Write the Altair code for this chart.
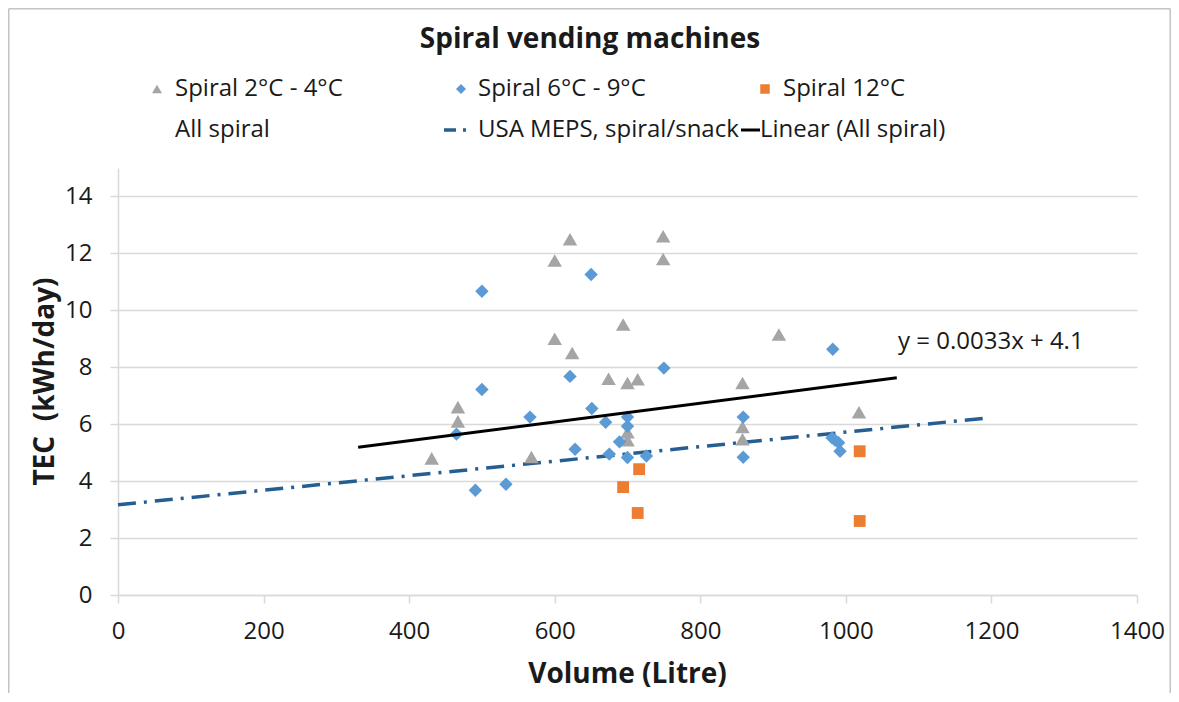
import altair as alt
import pandas as pd

# ---------------- data ----------------
cold_vol = [431, 467, 467, 568, 600, 600, 621, 624, 674, 694, 700, 714, 700, 700,
            749, 749, 858, 858, 858, 908, 1018]
cold_tec = [4.8, 6.6, 6.1, 4.85, 9.0, 11.75, 12.5, 8.5, 7.6, 9.5, 7.45, 7.58, 5.72, 5.44,
            12.6, 11.8, 7.45, 5.9, 5.47, 9.15, 6.42]

mid_vol = [465, 491, 500, 500, 533, 566, 621, 628, 650, 651, 670, 675, 689, 700, 700,
           700, 726, 750, 859, 859, 982, 981, 985, 990, 992]
mid_tec = [5.65, 3.68, 10.67, 7.22, 3.89, 6.25, 7.68, 5.12, 11.26, 6.55, 6.07, 4.95, 5.38,
           6.25, 5.93, 4.83, 4.88, 7.97, 6.25, 4.84, 8.63, 5.52, 5.44, 5.35, 5.05]

warm_vol = [694, 714, 716, 1019, 1019]
warm_tec = [3.79, 2.88, 4.42, 5.05, 2.6]

trend_vol = [330, 1070]
trend_tec = [5.19, 7.63]

meps_vol = [0, 1195]
meps_tec = [3.17, 6.22]

x_ticks = [0, 200, 400, 600, 800, 1000, 1200, 1400]
y_ticks = [0, 2, 4, 6, 8, 10, 12, 14]

series_names = ["Spiral 2°C - 4°C", "Spiral 6°C - 9°C", "Spiral 12°C",
                "All spiral", "USA MEPS, spiral/snack", "Linear (All spiral)"]
title_text = "Spiral vending machines"
x_title = "Volume (Litre)"
y_title = "TEC\u00a0 (kWh/day)"
equation = "y = 0.0033x + 4.1"

# ---------------- styling ----------------
FONT = "Open Sans"
TXT = "#1a1a1a"
GRID = "#d9d9d9"
C_GRAY = "#A5A5A5"
C_BLUE = "#5B9BD5"
C_ORANGE = "#ED7D31"
C_MEPS = "#255E91"
W, H = 1019, 427
PAD = {"left": 110, "top": 160, "right": 34, "bottom": 98}

xs = alt.Scale(domain=[0, 1400], nice=False, zero=False)
ys = alt.Scale(domain=[0, 15], nice=False, zero=False)

x_axis = alt.Axis(values=x_ticks, grid=False, title=None, domainColor=GRID, domainWidth=1.5,
                  tickColor=GRID, tickWidth=1.5, tickSize=8, labelFont=FONT, labelFontSize=24,
                  labelColor=TXT, labelPadding=16, labelFlush=False, format="d")
y_axis = alt.Axis(values=y_ticks, grid=True, gridColor=GRID, gridWidth=1.5, title=None,
                  domainColor=GRID, domainWidth=1.5, tickColor=GRID, tickWidth=1.5, tickSize=8,
                  labelFont=FONT, labelFontSize=24, labelColor=TXT, labelPadding=18, format="d")

X = alt.X("vol:Q", scale=xs, axis=x_axis)
Y = alt.Y("tec:Q", scale=ys, axis=y_axis)


def df(v, t):
    return pd.DataFrame({"vol": v, "tec": t})


one = pd.DataFrame({"k": [0]})

meps = alt.Chart(df(meps_vol, meps_tec)).mark_line(
    color=C_MEPS, strokeWidth=3.5, strokeDash=[18, 8, 3, 8]).encode(x=X, y=Y)
cold = alt.Chart(df(cold_vol, cold_tec)).mark_point(
    shape="triangle-up", filled=True, size=210, color=C_GRAY, opacity=1).encode(x=X, y=Y)
mid = alt.Chart(df(mid_vol, mid_tec)).mark_point(
    shape="diamond", filled=True, size=180, color=C_BLUE, opacity=1).encode(x=X, y=Y)
warm = alt.Chart(df(warm_vol, warm_tec)).mark_point(
    shape="square", filled=True, size=140, color=C_ORANGE, opacity=1).encode(x=X, y=Y)
trend = alt.Chart(df(trend_vol, trend_tec)).mark_line(
    color="#000000", strokeWidth=3).encode(x=X, y=Y)


def text(s, x, y, size=24, weight="normal", align="left", angle=0):
    return alt.Chart(one).mark_text(
        font=FONT, fontSize=size, fontWeight=weight, color=TXT, align=align,
        baseline="middle", angle=angle).encode(
        x=alt.value(x), y=alt.value(y), text=alt.value(s))


def sym(shape, color, x, y, size):
    return alt.Chart(one).mark_point(shape=shape, filled=True, color=color, size=size,
                                     opacity=1).encode(x=alt.value(x), y=alt.value(y))


def rule(x, x2, y, y2, color, width, dash=None):
    kw = dict(color=color, strokeWidth=width)
    if dash:
        kw["strokeDash"] = dash
    return alt.Chart(one).mark_rule(**kw).encode(
        x=alt.value(x), x2=alt.value(x2), y=alt.value(y), y2=alt.value(y2))


R1, R2 = -79, -38
LEFT_B = -PAD["left"] + 0.75
TOP_B = -PAD["top"] + 0.75
RIGHT_B = W + PAD["right"] - 0.75
BOT_B = H + PAD["bottom"] + 5
decor = [
    text(title_text, 472, -128, size=28, weight="bold", align="center"),
    sym("triangle-up", C_GRAY, 39, R1, 100),
    text(series_names[0], 57, R1),
    sym("diamond", C_BLUE, 343, R1, 100),
    text(series_names[1], 360, R1),
    sym("square", C_ORANGE, 647, R1, 90),
    text(series_names[2], 665, R1),
    text(series_names[3], 57, R2),
    rule(326, 352, R2, R2, C_MEPS, 3.5, [12, 7, 3, 7]),
    text(series_names[4], 360, R2),
    rule(623, 642, R2, R2, "#000000", 3),
    text(series_names[5], 642, R2),
    text(equation, 780, 174),
    text(x_title, 509.5, 507, size=28, weight="bold", align="center"),
    text(y_title, -72, 213.5, size=28, weight="bold", align="center", angle=270),
    # chart-area border
    rule(LEFT_B, LEFT_B, TOP_B, BOT_B, "#c4c4c4", 1.5),
    rule(LEFT_B, RIGHT_B, TOP_B, TOP_B, "#c4c4c4", 1.5),
    rule(RIGHT_B, RIGHT_B, TOP_B, BOT_B, "#c4c4c4", 1.5),
]

chart = alt.layer(meps, cold, mid, warm, trend, *decor).properties(
    width=W, height=H,
    autosize=alt.AutoSizeParams(type="none"),
    padding=PAD,
    background="white",
).configure_view(stroke=None)

chart.save("out.html", embed_options={"renderer": "svg", "actions": False})
